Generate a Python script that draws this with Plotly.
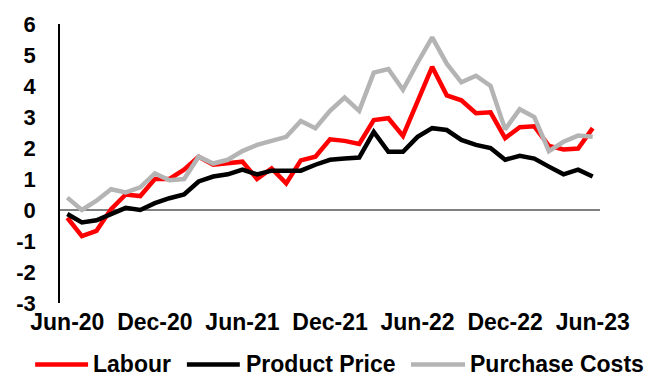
import pandas as pd
import plotly.graph_objects as go

# Monthly survey balances, Jun-20 to Jun-23
months = [d.strftime("%b-%y") for d in pd.date_range("2020-06-01", "2023-06-01", freq="MS")]

labour = [-0.25, -0.84, -0.67, 0.03, 0.50, 0.45, 1.00, 1.00, 1.30, 1.72, 1.46, 1.50,
          1.56, 1.00, 1.34, 0.86, 1.60, 1.72, 2.28, 2.23, 2.13, 2.90, 2.96, 2.39,
          3.47, 4.62, 3.70, 3.54, 3.12, 3.15, 2.32, 2.67, 2.70, 2.07, 1.95, 1.98, 2.64]

product_price = [-0.13, -0.40, -0.33, -0.13, 0.07, 0.00, 0.22, 0.38, 0.50, 0.92, 1.08, 1.15,
                 1.30, 1.15, 1.27, 1.27, 1.27, 1.46, 1.62, 1.66, 1.69, 2.52, 1.88, 1.88,
                 2.36, 2.64, 2.58, 2.26, 2.10, 2.00, 1.62, 1.75, 1.66, 1.40, 1.15, 1.30, 1.08]

purchase_costs = [0.40, 0.00, 0.30, 0.67, 0.57, 0.73, 1.18, 0.96, 1.00, 1.72, 1.50, 1.62,
                  1.90, 2.10, 2.23, 2.36, 2.87, 2.64, 3.20, 3.63, 3.20, 4.43, 4.55, 3.88,
                  4.75, 5.57, 4.72, 4.12, 4.33, 4.00, 2.60, 3.25, 3.00, 1.90, 2.20, 2.40, 2.36]

x_ticks = ["Jun-20", "Dec-20", "Jun-21", "Dec-21", "Jun-22", "Dec-22", "Jun-23"]
y_ticks = [-3, -2, -1, 0, 1, 2, 3, 4, 5, 6]

series = [
    ("Labour", labour, "#FF0000"),
    ("Product Price", product_price, "#000000"),
    ("Purchase Costs", purchase_costs, "#B4B4B4"),
]

FONT = "Liberation Sans, Arial, sans-serif"

fig = go.Figure()
for name, vals, color in series:
    fig.add_trace(go.Scatter(
        x=months, y=vals, name=name, mode="lines",
        line=dict(color=color, width=4.5),
        showlegend=False,
    ))

# Legend row drawn beneath the axis
legend_items = [
    ("Labour", "#FF0000", -0.046, 0.052, 0.058),
    ("Product Price", "#000000", 0.235, 0.333, 0.340),
    ("Purchase Costs", "#B4B4B4", 0.650, 0.750, 0.755),
]
ly = -0.22
for label, color, x0, x1, tx in legend_items:
    fig.add_shape(type="line", xref="paper", yref="paper", x0=x0, x1=x1, y0=ly, y1=ly,
                  line=dict(color=color, width=4.5))
    fig.add_annotation(xref="paper", yref="paper", x=tx, y=ly, text=f"<b>{label}</b>",
                       showarrow=False, xanchor="left", yanchor="middle",
                       font=dict(family=FONT, size=23, color="#000000"))

fig.update_layout(
    width=648, height=379,
    margin=dict(l=60, r=48, t=21, b=76),
    paper_bgcolor="white", plot_bgcolor="white",
    font=dict(family=FONT, color="#000000"),
)
fig.update_xaxes(
    type="category", categoryorder="array", categoryarray=months,
    range=[-0.5, len(months) - 0.5],
    tickmode="array", tickvals=x_ticks, ticktext=[f"<b>{t}</b>" for t in x_ticks],
    tickfont=dict(size=23), ticks="", ticklabelstandoff=3,
    showgrid=False, showline=False, zeroline=False,
)
fig.update_yaxes(
    range=[-3, 6], tickmode="array", tickvals=y_ticks,
    ticktext=[f"<b>{t}</b>" for t in y_ticks],
    tickfont=dict(size=22), ticks="", ticklabelstandoff=18,
    showgrid=False, showline=True, linecolor="#000000", linewidth=1.5,
    zeroline=True, zerolinecolor="#808080", zerolinewidth=1.5,
)

fig.write_html("out.html")
